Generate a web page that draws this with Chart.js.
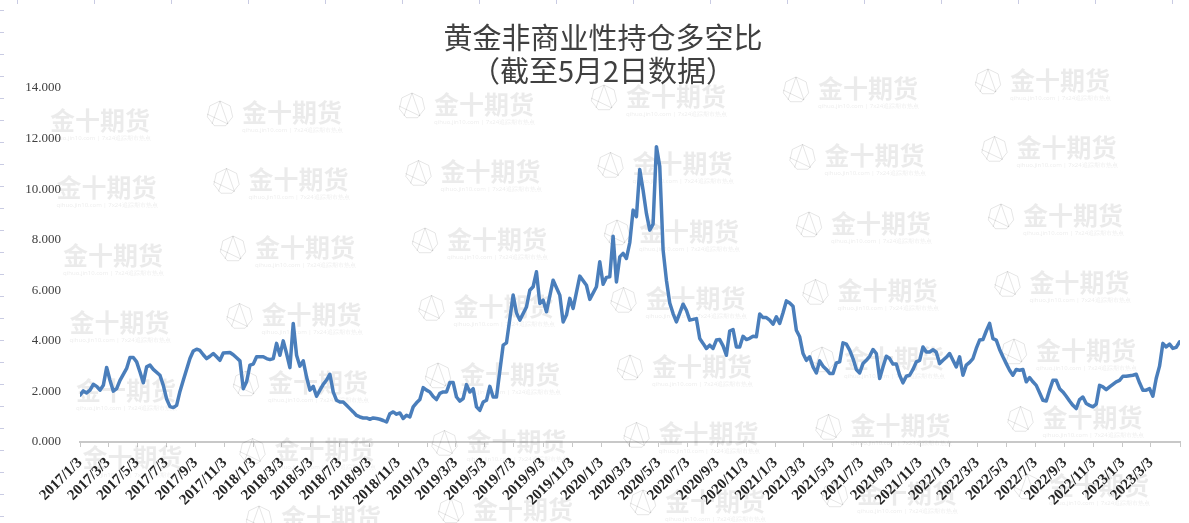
<!DOCTYPE html>
<html>
<head>
<meta charset="utf-8">
<script src="https://cdn.jsdelivr.net/npm/chart.js@4.4.1/dist/chart.umd.min.js"></script>
<style>
  html, body { margin: 0; padding: 0; background: #fff; }
</style>
</head>
<body>
<canvas id="chart" width="1189" height="523"></canvas>
<script>
// weekly report, week 0 = 2017/1/3
const startDate = "2017/1/3";
const axisEnd = "2023/5/3";
const titleLines = ["黄金非商业性持仓多空比", "（截至5月2日数据）"];

const weeks = [
  0, 1, 2, 3, 4, 5, 6, 7, 8, 9, 10, 11, 12, 14, 15, 16, 17, 18, 19, 20, 21, 22, 24, 25, 26, 27, 28, 29, 30, 31,
  33, 34, 35, 36, 37, 38, 39, 40, 41, 42, 43, 45, 46, 47, 48, 49, 50, 51, 52, 53, 55, 56, 57, 58, 59, 60,
  61, 62, 63, 64, 65, 66, 67, 68, 69, 70, 71, 72, 73, 74, 75, 76, 77, 78, 79, 80, 81, 82, 83, 84, 85, 86,
  87, 88, 89, 90, 91, 92, 93, 94, 95, 96, 97, 98, 99, 100, 101, 102, 103, 104, 105, 106, 107, 108, 109, 110,
  111, 112, 113, 114, 115, 116, 117, 118, 119, 120, 121, 122, 123, 124, 125, 127, 128, 130, 131, 132, 134,
  135, 136, 137, 138, 139, 140, 142, 144, 145, 146, 147, 148, 150, 152, 153, 155, 156, 157, 158, 159, 160,
  161, 162, 163, 164, 165, 166, 167, 168, 169, 170, 171, 172, 173, 174, 175, 176, 177, 178, 179, 180,
  181, 182, 183, 184, 185, 186, 187, 188, 189, 190, 191, 192, 193, 194, 195, 196, 197, 198, 199, 200,
  201, 202, 203, 204, 205, 206, 207, 208, 209, 210, 211, 212, 213, 214, 215, 216, 217, 218, 219, 220,
  221, 222, 223, 224, 225, 226, 227, 228, 229, 230, 231, 232, 233, 234, 235, 236, 237, 238, 239, 240,
  241, 242, 243, 244, 245, 246, 247, 248, 249, 250, 251, 252, 253, 254, 255, 256, 257, 258, 259, 260,
  261, 262, 263, 264, 265, 266, 267, 268, 269, 270, 271, 272, 273, 274, 275, 276, 277, 278, 279, 280,
  281, 282, 283, 284, 285, 286, 287, 288, 289, 290, 291, 292, 293, 294, 295, 296, 297, 298, 299, 300,
  301, 302, 303, 304, 305, 306, 307, 308, 309, 310, 311, 312, 313, 314, 315, 316, 317, 318, 319, 320,
  321, 322, 323, 324, 325, 326, 327, 328, 329, 330
];

const ratios = [
  1.85, 2.02, 1.94, 2.05, 2.28, 2.20, 2.05, 2.24, 2.95, 2.44, 2.01, 2.11, 2.44, 2.91, 3.34, 3.34, 3.17, 2.77, 2.34, 2.97, 3.04, 2.87, 2.64, 2.24, 1.70, 1.40, 1.36, 1.45, 2.00, 2.44,
  3.30, 3.60, 3.67, 3.62, 3.45, 3.30, 3.39, 3.50, 3.37, 3.23, 3.52, 3.54, 3.45, 3.33, 3.21, 2.11, 2.38, 3.04, 3.08, 3.37, 3.37, 3.30, 3.26, 3.30, 3.90, 3.43,
  4.00, 3.50, 2.94, 4.69, 3.43, 3.00, 3.21, 2.57, 2.05, 2.20, 1.81, 2.05, 2.28, 2.45, 2.68, 1.98, 1.65, 1.58, 1.58, 1.45, 1.32, 1.19, 1.05, 0.99, 0.95, 0.95,
  0.90, 0.95, 0.93, 0.90, 0.85, 0.79, 1.12, 1.19, 1.10, 1.15, 0.93, 1.06, 0.99, 1.39, 1.55, 1.68, 2.15, 2.05, 1.98, 1.80, 1.68, 1.92, 1.98, 1.98,
  2.35, 2.35, 1.78, 1.62, 1.72, 2.27, 1.98, 2.11, 1.39, 1.25, 1.58, 1.65, 2.20, 1.78, 1.78, 3.83, 3.92, 5.81, 5.10, 4.82, 5.34,
  6.00, 6.14, 6.73, 5.48, 5.61, 5.15, 6.40, 5.81, 4.75, 5.02, 5.68, 5.28, 6.56, 6.20, 5.64, 6.14, 7.13, 6.24, 6.51, 6.53, 8.14,
  6.33, 7.32, 7.46, 7.26, 7.88, 9.17, 8.91, 10.78, 9.96, 9.04, 8.38, 8.62, 11.68, 10.90, 7.60, 6.40, 5.50, 5.08, 4.75, 5.10,
  5.45, 5.21, 4.82, 4.85, 4.88, 4.09, 3.90, 3.70, 3.83, 3.70, 4.03, 4.05, 3.80, 3.43, 4.39, 4.45, 3.76, 3.76, 4.18, 4.05,
  4.10, 4.18, 4.16, 5.06, 4.92, 4.92, 4.82, 4.66, 4.95, 4.69, 5.11, 5.58, 5.50, 5.37, 4.42, 4.16, 3.50, 3.23, 3.37, 2.97,
  2.73, 3.21, 3.00, 2.87, 2.71, 2.71, 3.13, 3.17, 3.92, 3.87, 3.63, 3.30, 2.87, 2.73, 3.10, 3.23, 3.39, 3.66, 3.50, 2.51,
  2.97, 3.39, 3.30, 3.08, 3.08, 2.64, 2.34, 2.60, 2.64, 2.87, 3.17, 3.23, 3.76, 3.56, 3.56, 3.65, 3.55, 3.10, 3.23, 3.35,
  3.50, 3.23, 2.97, 3.37, 2.64, 3.04, 3.15, 3.30, 3.70, 4.03, 4.05, 4.39, 4.69, 4.09, 4.03, 3.66, 3.37, 3.10, 2.84, 2.64,
  2.87, 2.84, 2.87, 2.38, 2.55, 2.38, 2.24, 1.95, 1.65, 1.62, 2.05, 2.44, 2.44, 2.11, 1.98, 1.81, 1.62, 1.45, 1.32, 1.68,
  1.78, 1.52, 1.45, 1.39, 1.50, 2.24, 2.18, 2.07, 2.18, 2.28, 2.38, 2.44, 2.60, 2.60, 2.62, 2.64, 2.68, 2.34, 2.05, 2.05,
  2.11, 1.81, 2.51, 3.00, 3.90, 3.76, 3.87, 3.70, 3.74, 3.96
];

const tickLabels = [
  "2017/1/3", "2017/3/3", "2017/5/3", "2017/7/3", "2017/9/3", "2017/11/3",
  "2018/1/3", "2018/3/3", "2018/5/3", "2018/7/3", "2018/9/3", "2018/11/3",
  "2019/1/3", "2019/3/3", "2019/5/3", "2019/7/3", "2019/9/3", "2019/11/3",
  "2020/1/3", "2020/3/3", "2020/5/3", "2020/7/3", "2020/9/3", "2020/11/3",
  "2021/1/3", "2021/3/3", "2021/5/3", "2021/7/3", "2021/9/3", "2021/11/3",
  "2022/1/3", "2022/3/3", "2022/5/3", "2022/7/3", "2022/9/3", "2022/11/3",
  "2023/1/3", "2023/3/3"
];

function toUTC(s) {
  const p = s.split("/").map(Number);
  return Date.UTC(p[0], p[1] - 1, p[2]);
}
// days since first report
function dayOf(s) {
  return (toUTC(s) - toUTC(startDate)) / 86400000;
}

const points = weeks.map((w, i) => ({ x: w * 7, y: ratios[i] }));

// watermark + sheet edge marks + title
const decoPlugin = {
  id: "deco",
  beforeDatasetsDraw(chart) {
    const ctx = chart.ctx;
    ctx.save();
    // light sheet grid marks on the edges
    ctx.strokeStyle = "#c9cbe3";
    ctx.lineWidth = 1;
    for (let y = 10; y < 523; y += 22) {
      ctx.beginPath(); ctx.moveTo(0, y + 0.5); ctx.lineTo(4, y + 0.5); ctx.stroke();
    }
    for (let x = 17; x < 1189; x += 77) {
      ctx.beginPath(); ctx.moveTo(x + 0.5, 0); ctx.lineTo(x + 0.5, 4); ctx.stroke();
    }
    // watermark
    ctx.fillStyle = "rgba(0,0,0,0.08)";
    ctx.strokeStyle = "rgba(0,0,0,0.10)";
    ctx.textBaseline = "middle";
    for (let c = 0; c < 7; c++) {
      for (let r = -1; r < 7; r++) {
        const tx = 50 + 192 * c + 6.5 * r;
        const ty = 120 - 8 * c + 67.5 * r;
        if (ty < 60 || ty > 520 || tx > 1189) continue;
        ctx.font = "bold 25px 'Noto Sans CJK SC'";
        ctx.textAlign = "left";
        ctx.fillText("金十期货", tx, ty);
        ctx.font = "6px 'Noto Sans'";
        ctx.fillText("qihuo.jin10.com | 7x24追踪期市热点", tx, ty + 18);
        if (c > 0) {
          const cx = tx - 22, cy = ty + 2, rad = 13;
          ctx.beginPath();
          for (let k = 0; k < 7; k++) {
            const a = -Math.PI / 2 + k * 2 * Math.PI / 7;
            const px = cx + rad * Math.cos(a), py = cy + rad * Math.sin(a);
            if (k === 0) ctx.moveTo(px, py); else ctx.lineTo(px, py);
          }
          ctx.closePath();
          ctx.moveTo(cx, cy - rad); ctx.lineTo(cx - 8, cy + 10);
          ctx.moveTo(cx, cy - rad); ctx.lineTo(cx + 8, cy + 10);
          ctx.moveTo(cx - rad, cy); ctx.lineTo(cx + 8, cy + 10);
          ctx.stroke();
        }
      }
    }
    ctx.restore();
  },
  afterDraw(chart) {
    const ctx = chart.ctx;
    ctx.save();
    ctx.fillStyle = "#404040";
    ctx.textAlign = "center";
    ctx.textBaseline = "middle";
    ctx.font = "29px 'Noto Sans CJK SC'";
    ctx.fillText(titleLines[0], 603, 38);
    ctx.fillText(titleLines[1], 603, 71);
    ctx.restore();
  }
};

const config = {
  type: "line",
  data: {
    datasets: [{
      label: "多空比",
      data: points,
      borderColor: "#4a7ebb",
      borderWidth: 3.5,
      pointRadius: 0,
      tension: 0,
      borderJoinStyle: "round",
      borderCapStyle: "round"
    }]
  },
  options: {
    responsive: false,
    animation: false,
    devicePixelRatio: 1,
    layout: { padding: { top: 88, right: 9, left: 0, bottom: 0 } },
    plugins: {
      legend: { display: false },
      title: { display: false },
      tooltip: { enabled: false }
    },
    scales: {
      x: {
        type: "linear",
        min: 0,
        max: dayOf(axisEnd),
        afterBuildTicks: (axis) => {
          axis.ticks = tickLabels.concat([axisEnd]).map(s => ({ value: dayOf(s) }));
        },
        afterFit: (scale) => {
          scale.height = 81;
          scale.paddingLeft = 0;
          scale.paddingRight = 0;
        },
        ticks: {
          autoSkip: false,
          minRotation: 45,
          maxRotation: 45,
          padding: 7,
          color: "#262626",
          font: { family: "'Liberation Serif'", size: 15, weight: "bold" },
          callback: (value, index) => index < tickLabels.length ? tickLabels[index] : ""
        },
        grid: {
          drawOnChartArea: false,
          drawTicks: true,
          tickLength: 5,
          color: "#c8c8c8",
          lineWidth: 1
        },
        border: { display: true, color: "#c8c8c8", width: 2 }
      },
      y: {
        min: 0,
        max: 14,
        afterFit: (scale) => { scale.width = 80; },
        ticks: {
          stepSize: 2,
          padding: 11,
          color: "#404040",
          font: { family: "'Liberation Serif'", size: 13 },
          callback: (v) => Number(v).toFixed(3)
        },
        grid: { display: false },
        border: { display: false }
      }
    }
  },
  plugins: [decoPlugin]
};

const myChart = new Chart(document.getElementById("chart"), config);
</script>
</body>
</html>
